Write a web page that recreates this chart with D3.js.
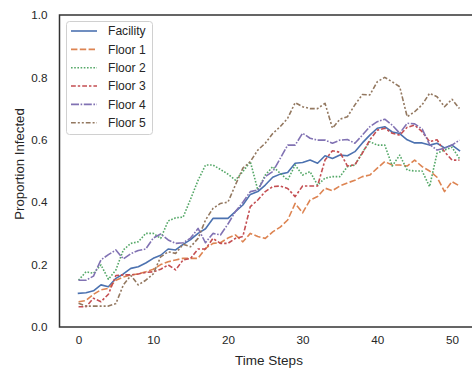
<!DOCTYPE html>
<html>
<head>
<meta charset="utf-8">
<script src="https://cdn.jsdelivr.net/npm/d3@7"></script>
<style>
  html, body { margin: 0; padding: 0; background: #fff; }
  svg { display: block; font-family: "Liberation Sans", Arial, "DejaVu Sans", sans-serif; }
</style>
</head>
<body>
<svg id="chart" width="472" height="371"></svg>
<script>
// Proportion infected per time step, for the whole facility and each floor
const timeSteps = d3.range(0, 52);
const seriesNames = ["Facility", "Floor 1", "Floor 2", "Floor 3", "Floor 4", "Floor 5"];

const facility = [0.108,0.11,0.116,0.135,0.129,0.156,0.17,0.188,0.193,0.205,0.22,0.23,0.25,0.247,0.265,0.28,0.30,0.315,0.348,0.348,0.348,0.37,0.391,0.425,0.434,0.455,0.48,0.49,0.495,0.525,0.527,0.535,0.525,0.549,0.54,0.551,0.549,0.562,0.59,0.615,0.637,0.642,0.625,0.62,0.6,0.59,0.59,0.583,0.589,0.574,0.583,0.565];
const floor1 = [0.081,0.085,0.105,0.119,0.124,0.15,0.16,0.167,0.17,0.177,0.185,0.2,0.209,0.215,0.22,0.22,0.22,0.252,0.268,0.27,0.285,0.295,0.273,0.30,0.29,0.284,0.305,0.32,0.343,0.396,0.366,0.407,0.418,0.445,0.437,0.452,0.462,0.47,0.482,0.487,0.509,0.53,0.519,0.519,0.516,0.535,0.514,0.5,0.48,0.434,0.466,0.452];
const floor2 = [0.15,0.177,0.172,0.199,0.153,0.183,0.247,0.268,0.273,0.30,0.30,0.284,0.34,0.35,0.352,0.41,0.47,0.519,0.519,0.505,0.49,0.471,0.498,0.53,0.439,0.487,0.514,0.493,0.471,0.519,0.487,0.498,0.455,0.477,0.482,0.482,0.514,0.519,0.56,0.594,0.583,0.583,0.516,0.551,0.503,0.50,0.50,0.45,0.557,0.567,0.576,0.54];
const floor3 = [0.065,0.065,0.092,0.081,0.105,0.165,0.167,0.167,0.17,0.175,0.177,0.185,0.199,0.183,0.215,0.22,0.25,0.25,0.284,0.268,0.268,0.284,0.29,0.386,0.407,0.434,0.45,0.452,0.444,0.418,0.452,0.452,0.452,0.535,0.565,0.56,0.516,0.52,0.557,0.60,0.631,0.637,0.621,0.615,0.64,0.647,0.626,0.594,0.60,0.562,0.535,0.535];
const floor4 = [0.15,0.15,0.163,0.215,0.232,0.247,0.218,0.235,0.245,0.25,0.285,0.298,0.279,0.268,0.27,0.285,0.316,0.27,0.30,0.295,0.33,0.37,0.40,0.434,0.439,0.482,0.498,0.54,0.583,0.583,0.621,0.605,0.599,0.599,0.589,0.599,0.601,0.589,0.615,0.642,0.658,0.666,0.647,0.621,0.653,0.651,0.635,0.585,0.567,0.573,0.583,0.599];
const floor5 = [0.076,0.067,0.067,0.067,0.067,0.075,0.135,0.165,0.135,0.15,0.17,0.225,0.241,0.236,0.265,0.257,0.284,0.343,0.38,0.396,0.40,0.455,0.509,0.53,0.567,0.589,0.62,0.642,0.669,0.719,0.706,0.70,0.70,0.717,0.637,0.666,0.674,0.712,0.745,0.744,0.786,0.80,0.786,0.77,0.674,0.69,0.712,0.749,0.738,0.706,0.73,0.70];

const xTicks = [0, 10, 20, 30, 40, 50];
const yTicks = [0.0, 0.2, 0.4, 0.6, 0.8, 1.0];

const seriesValues = [facility, floor1, floor2, floor3, floor4, floor5];
const colors = ["#4c72b0", "#dd8452", "#55a868", "#c44e52", "#8172b3", "#937860"];
const lw = 1.6;
const dashes = [null, [4, 1.5], [1, 1], [3, 1.25, 1.5, 1.25], [5, 1, 1, 1], [3, 1.25, 1.25, 1.25, 1.25, 1.25]]
  .map(d => d ? d.map(v => v * lw).join(",") : null);

const svg = d3.select("#chart");
const margin = { left: 59.5, top: 15, bottom: 327 };
const plotRight = 478.5;

// 5% padding on the x extent, fixed 0–1 on y
const xMin = d3.min(timeSteps), xMax = d3.max(timeSteps);
const pad = (xMax - xMin) * 0.05;
const x = d3.scaleLinear().domain([xMin - pad, xMax + pad]).range([margin.left, plotRight]);
const y = d3.scaleLinear().domain([0, 1]).range([margin.bottom, margin.top]);

const textColor = "#262626";

// Axes without tick marks
const xAxis = svg.append("g")
  .attr("transform", `translate(0,${margin.bottom})`)
  .call(d3.axisBottom(x).tickValues(xTicks).tickFormat(d3.format("d")).tickSize(0).tickPadding(9));
const yAxis = svg.append("g")
  .attr("transform", `translate(${margin.left},0)`)
  .call(d3.axisLeft(y).tickValues(yTicks).tickFormat(d3.format(".1f")).tickSize(0).tickPadding(12));
[xAxis, yAxis].forEach(g => {
  g.select(".domain").remove();
  g.selectAll("text").attr("fill", textColor).style("font-size", "11.7px")
    .style("font-family", '"Liberation Sans", Arial, sans-serif');
});

// Lines
svg.append("clipPath").attr("id", "plot-clip")
  .append("rect").attr("x", margin.left).attr("y", margin.top)
  .attr("width", plotRight - margin.left).attr("height", margin.bottom - margin.top);

const line = d3.line().x((d, i) => x(timeSteps[i])).y(d => y(d));
const lines = svg.append("g").attr("clip-path", "url(#plot-clip)");
seriesValues.forEach((vals, k) => {
  lines.append("path")
    .datum(vals)
    .attr("d", line)
    .attr("fill", "none")
    .attr("stroke", colors[k])
    .attr("stroke-width", lw)
    .attr("stroke-linejoin", "round")
    .attr("stroke-linecap", dashes[k] ? "butt" : "square")
    .attr("stroke-dasharray", dashes[k]);
});

// Frame
svg.append("rect")
  .attr("x", margin.left).attr("y", margin.top)
  .attr("width", plotRight - margin.left).attr("height", margin.bottom - margin.top)
  .attr("fill", "none").attr("stroke", "#333").attr("stroke-width", 1.5);

// Axis titles
svg.append("text")
  .attr("x", (margin.left + plotRight) / 2).attr("y", 365)
  .attr("text-anchor", "middle").attr("fill", textColor)
  .style("font-size", "13.5px").text("Time Steps");
svg.append("text")
  .attr("transform", `translate(23.5,164) rotate(-90)`)
  .attr("text-anchor", "middle").attr("fill", textColor)
  .style("font-size", "13.2px").text("Proportion Infected");

// Legend
const legend = svg.append("g");
legend.append("rect")
  .attr("x", 66.5).attr("y", 21.5).attr("width", 86).attr("height", 113)
  .attr("rx", 3).attr("fill", "#fff").attr("fill-opacity", 0.8)
  .attr("stroke", "#d0d0d0").attr("stroke-width", 1);
seriesNames.forEach((name, k) => {
  const yy = 31 + k * 18.35;
  legend.append("line")
    .attr("x1", 71).attr("x2", 97).attr("y1", yy).attr("y2", yy)
    .attr("stroke", colors[k]).attr("stroke-width", lw)
    .attr("stroke-dasharray", dashes[k]);
  legend.append("text")
    .attr("x", 108).attr("y", yy).attr("dy", "0.35em")
    .attr("fill", textColor).style("font-size", "12.1px").text(name);
});
</script>
</body>
</html>
